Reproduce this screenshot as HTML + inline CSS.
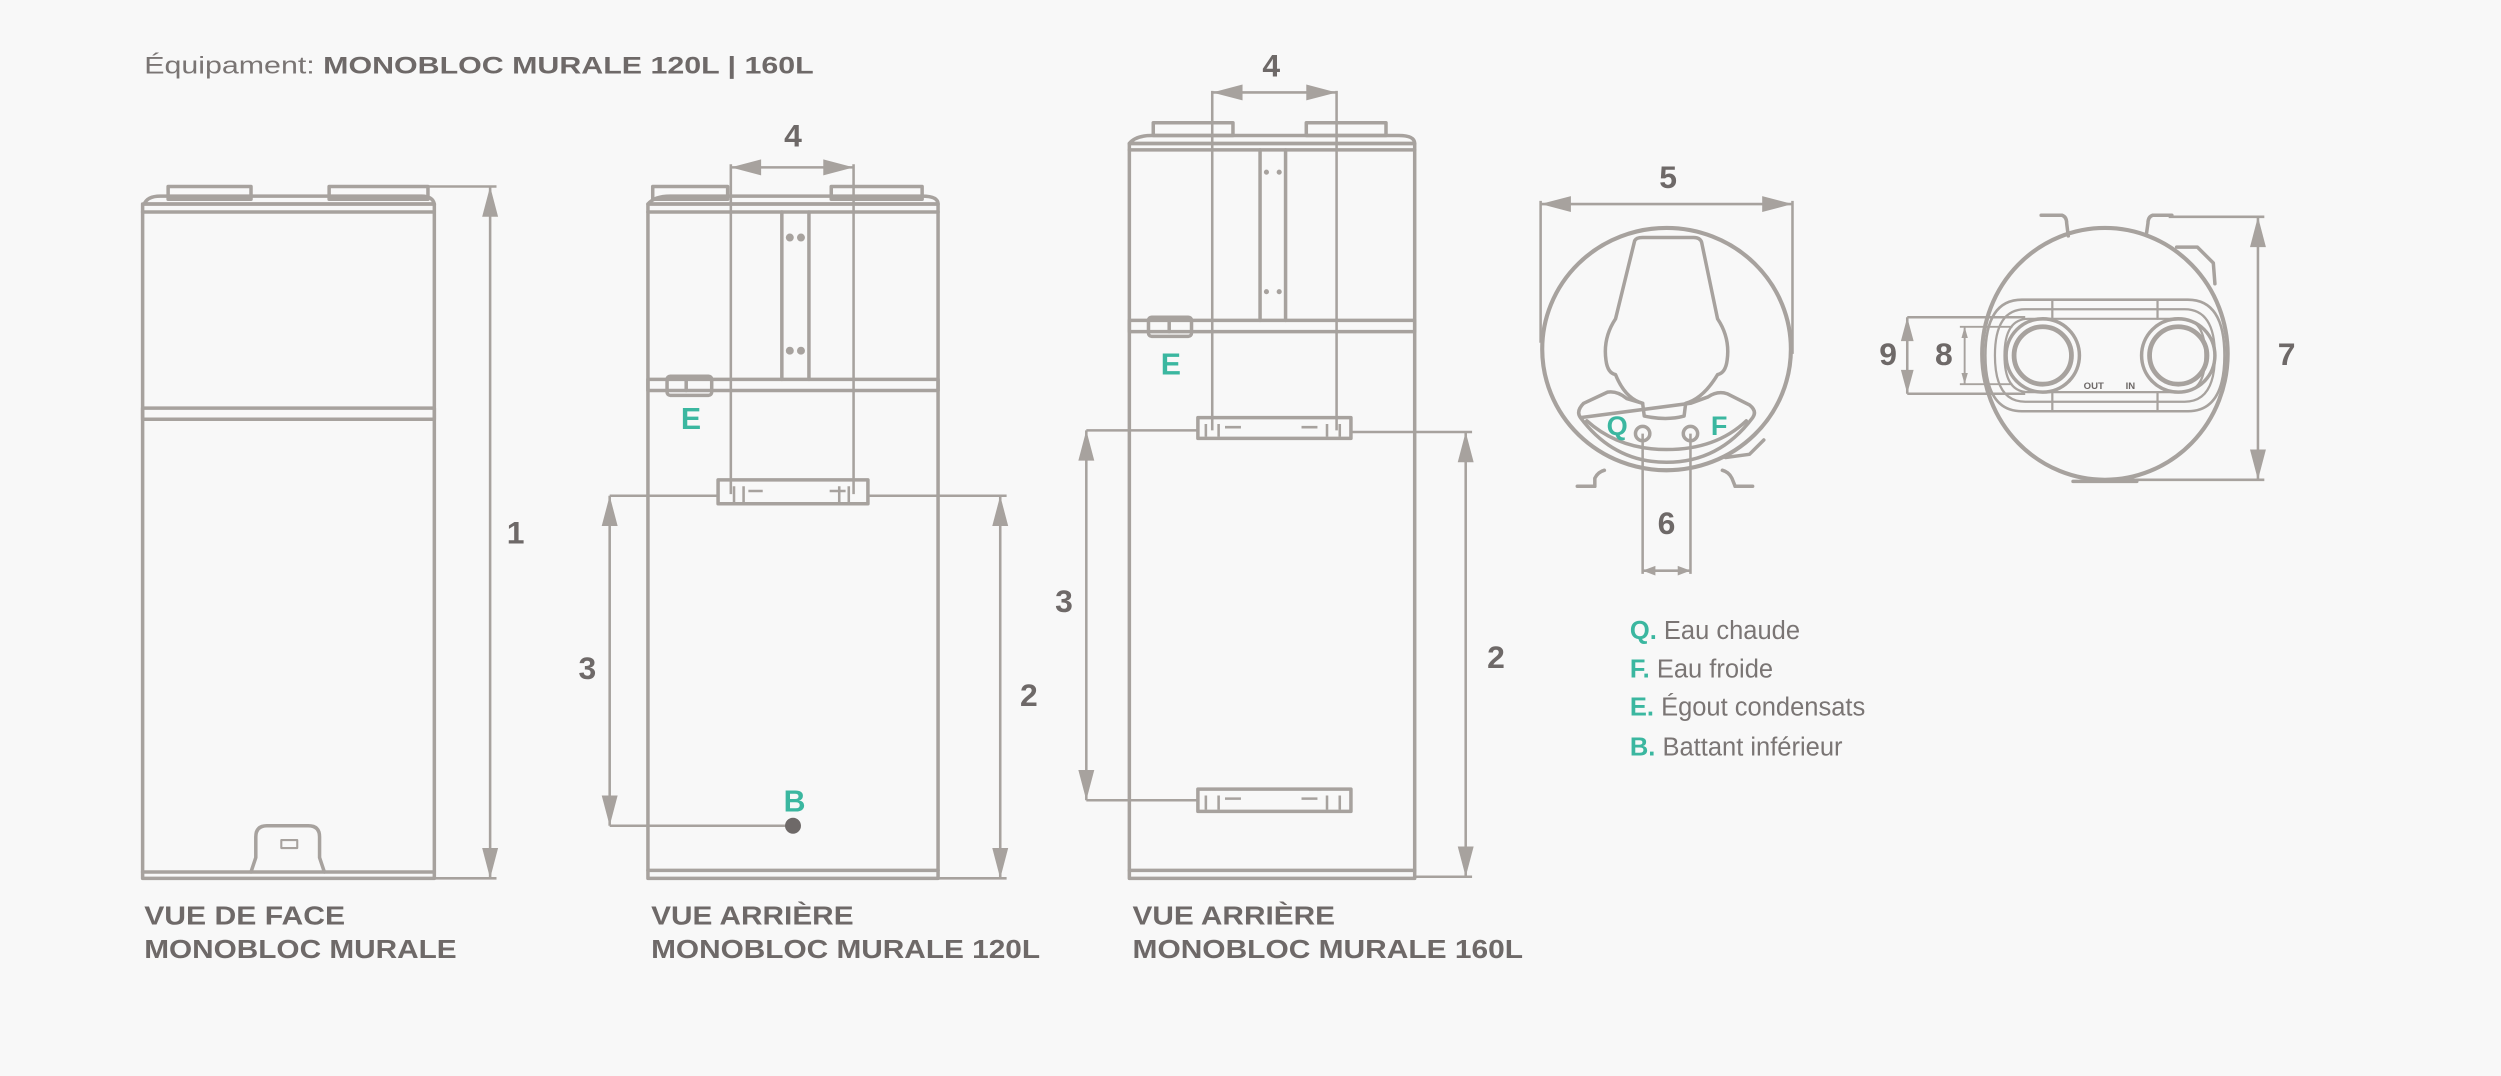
<!DOCTYPE html>
<html><head><meta charset="utf-8"><style>
html,body{margin:0;padding:0;background:#f8f8f8;}
svg{display:block;}
.l{fill:none;stroke:#a7a29e;stroke-width:2.2;stroke-linejoin:round;stroke-linecap:round}
.d{fill:none;stroke:#a7a29e;stroke-width:1.6}
.a{fill:#a7a29e;stroke:none}
.t{font-family:"Liberation Sans",sans-serif;font-weight:bold;fill:#6e6968;}
.g{font-family:"Liberation Sans",sans-serif;font-weight:bold;fill:#3bb7a0;}
.n{font-family:"Liberation Sans",sans-serif;fill:#7a7574;}
</style></head><body>
<svg width="2501" height="1076" viewBox="0 0 1568 675" xmlns="http://www.w3.org/2000/svg">
<rect width="1568" height="675" fill="#f8f8f8"/>
<text x="90" y="46" font-size="15" class="n" textLength="420" lengthAdjust="spacingAndGlyphs">Équipament: <tspan class="t">MONOBLOC MURALE 120L | 160L</tspan></text>

<!-- FRONT VIEW -->
<g class="l">
<rect x="105" y="117" width="52" height="8"/>
<rect x="206" y="117" width="62" height="8"/>
<path d="M90,128 Q92,123 100,123 L264,123 Q271,123 272,128 Z"/>
<rect x="89" y="128" width="183" height="423"/>
<line x1="89" y1="133" x2="272" y2="133"/>
<rect x="89" y="256" width="183" height="7"/>
<line x1="89" y1="547" x2="272" y2="547"/>
<path d="M157,547 L160,538 L160,525 Q160,518 167,518 L193,518 Q200,518 200,525 L200,538 L203,547"/>
<rect x="176" y="527" width="10" height="5" stroke-width="1.3"/>
</g>
<g class="d"><line x1="268" y1="117" x2="311" y2="117"/><line x1="272" y1="551" x2="311" y2="551"/><line x1="307" y1="117" x2="307" y2="551"/></g>
<polygon class="a" points="307,117 302,136 312,136"/><polygon class="a" points="307,551 302,532 312,532"/>
<text x="323" y="341" font-size="20" class="t" text-anchor="middle">1</text>
<text x="90" y="580" font-size="16" class="t" textLength="126" lengthAdjust="spacingAndGlyphs">VUE DE FACE</text>
<text x="90" y="601" font-size="16" class="t" textLength="196" lengthAdjust="spacingAndGlyphs">MONOBLOC MURALE</text>

<!-- BACK 120L -->
<g class="l">
<rect x="409" y="117" width="47" height="8"/>
<rect x="521" y="117" width="57" height="8"/>
<path d="M406,128 Q410,123 420,123 L578,123 Q588,123 588,128 Z"/>
<rect x="406" y="128" width="182" height="423"/>
<line x1="406" y1="133" x2="588" y2="133"/>
<line x1="490" y1="133" x2="490" y2="238"/><line x1="507" y1="133" x2="507" y2="238"/>
<rect x="406" y="238" width="182" height="7"/>
<rect x="418" y="236" width="28" height="12" rx="2"/>
<line x1="430" y1="238" x2="430" y2="245"/>
<rect x="450" y="301" width="94" height="15"/>
<line x1="406" y1="546" x2="588" y2="546"/>
</g>
<g class="a"><circle cx="495" cy="149" r="2.5"/><circle cx="502" cy="149" r="2.5"/><circle cx="495" cy="220" r="2.5"/><circle cx="502" cy="220" r="2.5"/></g>
<g class="d" stroke-width="1.2"><path d="M460,316 L460,305 M466,305 L466,316 M469,308 L478,308 M530,308 L520,308 M526,305 L526,316 M532,305 L532,316"/></g>
<g class="d">
<line x1="458" y1="103" x2="458" y2="310"/><line x1="535" y1="103" x2="535" y2="310"/><line x1="458" y1="105" x2="535" y2="105"/>
<line x1="382" y1="311" x2="450" y2="311"/><line x1="544" y1="311" x2="631" y2="311"/>
<line x1="382" y1="311" x2="382" y2="518"/><line x1="382" y1="518" x2="497" y2="518"/>
<line x1="627" y1="311" x2="627" y2="551"/><line x1="588" y1="551" x2="631" y2="551"/>
</g>
<g class="a">
<polygon points="458,105 477,100 477,110"/><polygon points="535,105 516,100 516,110"/>
<polygon points="382,311 377,330 387,330"/><polygon points="382,518 377,499 387,499"/>
<polygon points="627,311 622,330 632,330"/><polygon points="627,551 622,532 632,532"/>
<circle cx="497" cy="518" r="5" fill="#6e6968"/>
</g>
<text x="497" y="92" font-size="20" class="t" text-anchor="middle">4</text>
<text x="368" y="426" font-size="20" class="t" text-anchor="middle">3</text>
<text x="645" y="443" font-size="20" class="t" text-anchor="middle">2</text>
<text x="433" y="269" font-size="19" class="g" text-anchor="middle">E</text>
<text x="498" y="509" font-size="19" class="g" text-anchor="middle">B</text>
<text x="408" y="580" font-size="16" class="t" textLength="127" lengthAdjust="spacingAndGlyphs">VUE ARRIÈRE</text>
<text x="408" y="601" font-size="16" class="t" textLength="244" lengthAdjust="spacingAndGlyphs">MONOBLOC MURALE 120L</text>

<!-- BACK 160L -->
<g class="l">
<rect x="723" y="77" width="50" height="8"/>
<rect x="819" y="77" width="50" height="8"/>
<path d="M708,90 Q712,85 722,85 L877,85 Q887,85 887,90 Z"/>
<rect x="708" y="90" width="179" height="461"/>
<line x1="708" y1="94" x2="887" y2="94"/>
<line x1="790" y1="94" x2="790" y2="201"/><line x1="806" y1="94" x2="806" y2="201"/>
<rect x="708" y="201" width="179" height="7"/>
<rect x="720" y="199" width="27" height="12" rx="2"/>
<line x1="733" y1="201" x2="733" y2="208"/>
<rect x="751" y="262" width="96" height="13"/>
<rect x="751" y="495" width="96" height="14"/>
<line x1="708" y1="546" x2="887" y2="546"/>
</g>
<g class="a"><circle cx="794" cy="108" r="1.6"/><circle cx="802" cy="108" r="1.6"/><circle cx="794" cy="183" r="1.6"/><circle cx="802" cy="183" r="1.6"/></g>
<g class="d" stroke-width="1.2"><path d="M756,274 L756,266 M764,266 L764,274 M768,268 L778,268 M826,268 L816,268 M832,266 L832,274 M840,266 L840,274 M756,508 L756,499 M764,499 L764,508 M768,501 L778,501 M826,501 L816,501 M832,499 L832,508 M840,499 L840,508"/></g>
<g class="d">
<line x1="760" y1="57" x2="760" y2="270"/><line x1="838" y1="57" x2="838" y2="270"/><line x1="760" y1="58" x2="838" y2="58"/>
<line x1="681" y1="270" x2="751" y2="270"/><line x1="847" y1="271" x2="923" y2="271"/>
<line x1="681" y1="270" x2="681" y2="502"/><line x1="681" y1="502" x2="751" y2="502"/>
<line x1="919" y1="271" x2="919" y2="550"/><line x1="887" y1="550" x2="923" y2="550"/>
</g>
<g class="a">
<polygon points="760,58 779,53 779,63"/><polygon points="838,58 819,53 819,63"/>
<polygon points="681,270 676,289 686,289"/><polygon points="681,502 676,483 686,483"/>
<polygon points="919,271 914,290 924,290"/><polygon points="919,550 914,531 924,531"/>
</g>
<text x="797" y="48" font-size="20" class="t" text-anchor="middle">4</text>
<text x="667" y="384" font-size="20" class="t" text-anchor="middle">3</text>
<text x="938" y="419" font-size="20" class="t" text-anchor="middle">2</text>
<text x="734" y="235" font-size="19" class="g" text-anchor="middle">E</text>
<text x="710" y="580" font-size="16" class="t" textLength="127" lengthAdjust="spacingAndGlyphs">VUE ARRIÈRE</text>
<text x="710" y="601" font-size="16" class="t" textLength="245" lengthAdjust="spacingAndGlyphs">MONOBLOC MURALE 160L</text>

<!-- TOP VIEW 1 -->
<g class="l">
<ellipse cx="1045" cy="219" rx="78" ry="76" stroke-width="2.6"/>
<path d="M1025,151 Q1026,149 1030,149 L1062,149 Q1066,149 1067,152 L1077,200 Q1085,212 1083,226 Q1082,234 1077,235 Q1068,250 1057,253 L1056,261 Q1045,264 1031,261 L1030,253 Q1019,250 1013,235 Q1008,234 1007,226 Q1005,212 1013,200 Z"/>
<path d="M991,262 Q988,258 993,253 L1008,246 Q1014,245 1020,250 L1030,253 M1060,253 L1071,249 Q1077,245 1083,247 L1097,254 Q1102,258 1099,262 Q1078,290 1045,290 Q1012,290 991,262 Z"/>
<path d="M995,264 Q1015,282 1045,282 Q1076,282 1095,264"/>
<path d="M1000,305 L1000,300 Q1002,296 1006,295 M1088,305 L1086,300 Q1084,296 1080,295"/>
<path d="M1082,287 L1097,285 L1106,276"/>
<circle cx="1030" cy="272" r="4.5"/><circle cx="1060" cy="272" r="4.5"/>
</g>
<path class="l" d="M1000,305 L989,305 M1088,305 L1099,305"/>
<g class="d">
<line x1="966" y1="128" x2="1124" y2="128"/>
<line x1="966" y1="126" x2="966" y2="215"/><line x1="1124" y1="126" x2="1124" y2="222"/>
<line x1="1030" y1="272" x2="1030" y2="360"/><line x1="1060" y1="272" x2="1060" y2="360"/>
<line x1="1030" y1="358" x2="1060" y2="358"/>
</g>
<g class="a">
<polygon points="966,128 985,123 985,133"/><polygon points="1124,128 1105,123 1105,133"/>
<polygon points="1030,358 1038,355 1038,361"/><polygon points="1060,358 1052,355 1052,361"/>
</g>
<text x="1046" y="118" font-size="20" class="t" text-anchor="middle">5</text>
<text x="1045" y="335" font-size="20" class="t" text-anchor="middle">6</text>
<text x="1014" y="273" font-size="17" class="g" text-anchor="middle">Q</text>
<text x="1078" y="273" font-size="17" class="g" text-anchor="middle">F</text>

<!-- LEGEND -->
<g font-size="16">
<text x="1022" y="401"><tspan class="g">Q.</tspan><tspan class="n"> Eau chaude</tspan></text>
<text x="1022" y="425"><tspan class="g">F.</tspan><tspan class="n"> Eau froide</tspan></text>
<text x="1022" y="449"><tspan class="g">E.</tspan><tspan class="n"> Égout condensats</tspan></text>
<text x="1022" y="474"><tspan class="g">B.</tspan><tspan class="n"> Battant inférieur</tspan></text>
</g>

<!-- TOP VIEW 2 -->
<g class="l">
<ellipse cx="1320" cy="222" rx="77" ry="79" stroke-width="2.6"/>
<path d="M1280,135 L1293,135 Q1296,136 1296,140 L1297,148 M1362,135 L1350,135 Q1347,136 1347,140 L1346,147"/>
<path d="M1365,155 L1378,155 L1388,165 L1389,178"/>
<path d="M1268,188 L1372,188 Q1395,188 1395,223 Q1395,258 1372,258 L1268,258 Q1245,258 1245,223 Q1245,188 1268,188 Z" stroke-width="1.6"/>
<path d="M1270,194 L1370,194 Q1389,194 1389,223 Q1389,252 1370,252 L1270,252 Q1251,252 1251,223 Q1251,194 1270,194 Z" stroke-width="1.4"/>
<path d="M1272,200 L1368,200 Q1383,200 1383,223 Q1383,246 1368,246 L1272,246 Q1257,246 1257,223 Q1257,200 1272,200 Z" stroke-width="1.4"/>
<line x1="1287" y1="188" x2="1287" y2="200" stroke-width="1.4"/><line x1="1353" y1="188" x2="1353" y2="200" stroke-width="1.4"/>
<line x1="1287" y1="246" x2="1287" y2="258" stroke-width="1.4"/><line x1="1353" y1="246" x2="1353" y2="258" stroke-width="1.4"/>
<circle cx="1281" cy="223" r="23"/><circle cx="1281" cy="223" r="18" stroke-width="3"/>
<circle cx="1366" cy="223" r="23"/><circle cx="1366" cy="223" r="18" stroke-width="3"/>
<path d="M1300,302 L1340,302"/>
</g>
<text x="1313" y="244" font-size="6" class="t" text-anchor="middle">OUT</text>
<text x="1336" y="244" font-size="6" class="t" text-anchor="middle">IN</text>
<g class="d">
<line x1="1360" y1="136" x2="1420" y2="136"/><line x1="1320" y1="301" x2="1420" y2="301"/>
<line x1="1416" y1="136" x2="1416" y2="301"/>
<line x1="1196" y1="199" x2="1270" y2="199"/><line x1="1196" y1="247" x2="1270" y2="247"/>
<line x1="1196" y1="199" x2="1196" y2="247"/>
<line x1="1229" y1="205" x2="1262" y2="205" stroke-width="1.2"/><line x1="1229" y1="241" x2="1262" y2="241" stroke-width="1.2"/>
<line x1="1232" y1="205" x2="1232" y2="241" stroke-width="1.2"/>
</g>
<g class="a">
<polygon points="1416,136 1411,155 1421,155"/><polygon points="1416,301 1411,282 1421,282"/>
<polygon points="1196,199 1192,214 1200,214"/><polygon points="1196,247 1192,232 1200,232"/>
<polygon points="1232,205 1230,212 1234,212"/><polygon points="1232,241 1230,234 1234,234"/>
</g>
<text x="1434" y="229" font-size="20" class="t" text-anchor="middle">7</text>
<text x="1184" y="229" font-size="20" class="t" text-anchor="middle">9</text>
<text x="1219" y="229" font-size="20" class="t" text-anchor="middle">8</text>
</svg>
</body></html>
